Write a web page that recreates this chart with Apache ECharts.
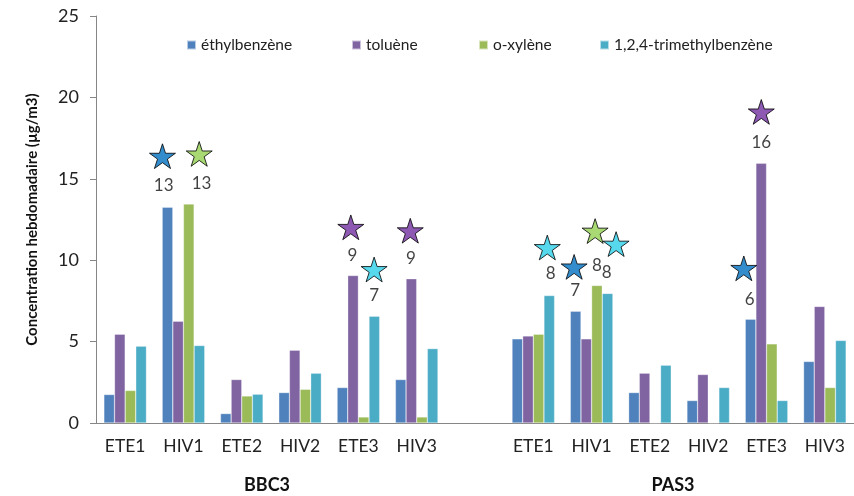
<!DOCTYPE html>
<html>
<head>
<meta charset="utf-8">
<script src="https://cdn.jsdelivr.net/npm/echarts@6/dist/echarts.min.js"></script>
<style>
  html, body { margin: 0; padding: 0; background: #fff; }
  #chart { width: 854px; height: 496px; }
</style>
</head>
<body>
<div id="chart"></div>
<script>
const chart = echarts.init(document.getElementById('chart'));

// catégories (BBC3, vide, PAS3)
const categories = ['ETE1', 'HIV1', 'ETE2', 'HIV2', 'ETE3', 'HIV3', '',
  'ETE1', 'HIV1', 'ETE2', 'HIV2', 'ETE3', 'HIV3'];
const groups = ['BBC3', 'PAS3'];

const seriesNames = ['éthylbenzène', 'toluène', 'o-xylène', '1,2,4-trimethylbenzène'];
const barColors = ['#4F81BD', '#8064A2', '#9BBB59', '#4BACC6'];
const starColors = ['#0070C0', '#7030A0', '#92D050', '#2DD0E8'];

const ethylbenzene = [1.75, 13.25, 0.58, 1.87, 2.18, 2.67, null, 5.17, 6.87, 1.87, 1.38, 6.38, 3.78];
const toluene      = [5.45, 6.25, 2.67, 4.47, 9.06, 8.86, null, 5.35, 5.17, 3.06, 2.98, 15.95, 7.16];
const oxylene      = [2.0, 13.45, 1.66, 2.07, 0.37, 0.37, null, 5.45, 8.45, 0, 0, 4.86, 2.18];
const trimethyl    = [4.72, 4.76, 1.77, 3.06, 6.56, 4.57, null, 7.83, 7.96, 3.55, 2.18, 1.38, 5.07];
const values = [ethylbenzene, toluene, oxylene, trimethyl];

// étoiles : [position x (index de catégorie), y, composé]
const stars = [
  [1.14, 16.39, 0], [1.77, 16.53, 2],
  [4.37, 12.02, 1], [4.77, 9.43, 3], [5.39, 11.81, 1],
  [7.74, 10.78, 3], [8.20, 9.59, 0], [8.56, 11.79, 2], [8.92, 10.99, 3],
  [11.11, 9.50, 0], [11.41, 19.11, 1]
];
// étiquettes sous les étoiles : [x, y, texte]
const starLabels = [
  [1.16, 14.6, '13'], [1.81, 14.74, '13'],
  [4.40, 10.31, '9'], [4.77, 7.81, '7'], [5.40, 10.11, '9'],
  [7.80, 9.19, '8'], [8.22, 8.12, '7'], [8.59, 9.70, '8'], [8.76, 9.22, '8'],
  [11.21, 7.59, '6'], [11.41, 17.22, '16']
];

const starPath = 'path://M50 0 L61.17 34.63 L97.55 34.55 L68.07 55.87 L79.39 90.45 L50 69 L20.61 90.45 L31.93 55.87 L2.45 34.55 L38.83 34.63 Z';
const font = 'Lato, "Open Sans", sans-serif';
const legendLeft = [186, 351, 478, 599];

const gridLeft = 96, gridWidth = 760;

const option = {
  animation: false,
  textStyle: { fontFamily: font },
  grid: { left: gridLeft, top: 16, width: gridWidth, height: 407 },
  legend: seriesNames.map((n, i) => ({
    data: [n],
    left: legendLeft[i],
    top: 37,
    padding: 0,
    icon: 'rect',
    itemWidth: 9,
    itemHeight: 9,
    itemGap: 5,
    textStyle: { fontSize: 15.5, color: '#222', fontFamily: font }
  })),
  xAxis: [
    {
      type: 'category',
      data: categories,
      axisLine: { lineStyle: { color: '#868686' } },
      axisTick: { interval: 0, length: 5, lineStyle: { color: '#868686' } },
      axisLabel: { interval: 0, margin: 14, fontSize: 17.5, color: '#222' }
    },
    {
      type: 'value',
      min: 0,
      max: categories.length,
      show: false
    }
  ],
  yAxis: {
    type: 'value',
    min: 0,
    max: 25,
    interval: 5,
    name: 'Concentration hebdomadaire (µg/m3)',
    nameLocation: 'middle',
    nameGap: 56,
    nameTextStyle: { fontSize: 15, fontWeight: 'bold', color: '#111' },
    axisLine: { show: true, lineStyle: { color: '#868686' } },
    axisTick: { show: true, length: 6, lineStyle: { color: '#868686' } },
    axisLabel: { fontSize: 18, color: '#222', margin: 17 },
    splitLine: { show: false }
  },
  graphic: [
    { type: 'text', x: 267, y: 485,
      style: { text: groups[0], font: 'bold 18px ' + font, fill: '#111', align: 'center', verticalAlign: 'middle' } },
    { type: 'text', x: 673, y: 485,
      style: { text: groups[1], font: 'bold 18px ' + font, fill: '#111', align: 'center', verticalAlign: 'middle' } }
  ],
  series: [
    ...seriesNames.map((n, i) => ({
      name: n,
      type: 'bar',
      data: values[i],
      barGap: 0,
      barCategoryGap: '27%',
      itemStyle: { color: barColors[i], borderColor: 'rgba(255,255,255,0.6)', borderWidth: 0.5 }
    })),
    {
      type: 'scatter',
      xAxisIndex: 1,
      symbol: starPath,
      symbolSize: 26,
      symbolKeepAspect: true,
      z: 5,
      data: stars.map(s => ({
        value: [s[0], s[1]],
        itemStyle: { color: starColors[s[2]], borderColor: '#000', borderWidth: 1 }
      }))
    },
    {
      type: 'scatter',
      xAxisIndex: 1,
      symbolSize: 1,
      itemStyle: { color: 'rgba(0,0,0,0)' },
      z: 6,
      label: {
        show: true,
        position: 'inside',
        fontSize: 17,
        color: '#111',
        formatter: p => p.data[2]
      },
      data: starLabels
    }
  ]
};

chart.setOption(option);
</script>
</body>
</html>
